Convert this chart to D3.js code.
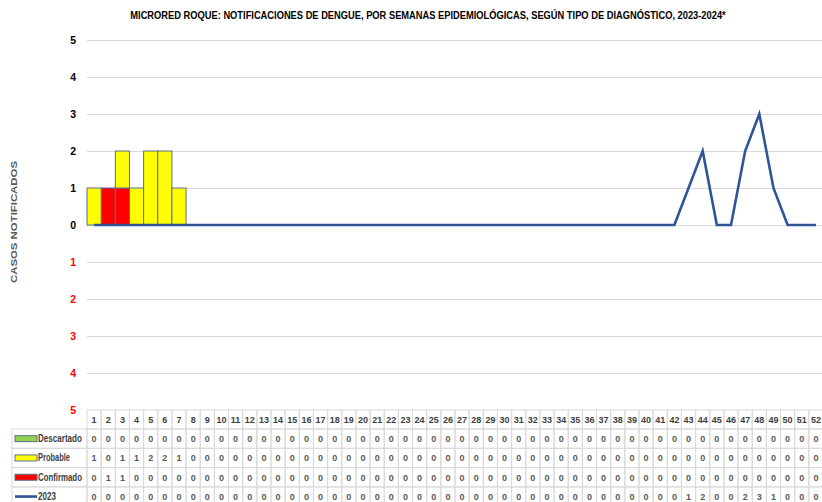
<!DOCTYPE html>
<html>
<head>
  <meta charset="utf-8">
  <title>Microred Roque - Dengue</title>
  <script src="https://d3js.org/d3.v7.min.js"></script>
  <style>
    body { margin: 0; background: #fff; }
    svg text { font-family: 'Liberation Sans Narrow', 'Arial Narrow', 'Liberation Sans', sans-serif; }
  </style>
</head>
<body>
<script>
// data
var weeks = d3.range(1, 53);
var descartado = weeks.map(function () { return 0; });
var probable = [1, 0, 1, 1, 2, 2, 1, 0, 0, 0, 0, 0, 0, 0, 0, 0, 0, 0, 0, 0, 0, 0, 0, 0, 0, 0,
  0, 0, 0, 0, 0, 0, 0, 0, 0, 0, 0, 0, 0, 0, 0, 0, 0, 0, 0, 0, 0, 0, 0, 0, 0, 0];
var confirmado = [0, 1, 1, 0, 0, 0, 0, 0, 0, 0, 0, 0, 0, 0, 0, 0, 0, 0, 0, 0, 0, 0, 0, 0, 0, 0,
  0, 0, 0, 0, 0, 0, 0, 0, 0, 0, 0, 0, 0, 0, 0, 0, 0, 0, 0, 0, 0, 0, 0, 0, 0, 0];
var serie2023 = [0, 0, 0, 0, 0, 0, 0, 0, 0, 0, 0, 0, 0, 0, 0, 0, 0, 0, 0, 0, 0, 0, 0, 0, 0, 0,
  0, 0, 0, 0, 0, 0, 0, 0, 0, 0, 0, 0, 0, 0, 0, 0, 1, 2, 0, 0, 2, 3, 1, 0, 0, 0];
var yTicks = [-5, -4, -3, -2, -1, 0, 1, 2, 3, 4, 5];
var title = "MICRORED  ROQUE:  NOTIFICACIONES  DE DENGUE,  POR SEMANAS  EPIDEMIOLÓGICAS,   SEGÚN  TIPO DE DIAGNÓSTICO, 2023-2024*";

var rows = [
  { name: "Descartado", values: descartado, color: "#92d050", type: "bar", len: 44 },
  { name: "Probable", values: probable, color: "#ffff00", type: "bar", len: 32 },
  { name: "Confirmado", values: confirmado, color: "#ff0000", type: "bar", len: 44 },
  { name: "2023", values: serie2023, color: "#2f5597", type: "line", len: 18 }
];

var W = 822, H = 502;
var svg = d3.select("body").append("svg")
  .attr("width", W).attr("height", H);

var x = d3.scaleBand().domain(weeks).range([87, 823]).padding(0);
var y = d3.scaleLinear().domain([-5, 5]).range([410, 40]);

// squeeze a text horizontally to a given width (Calibri-like narrow look)
function squeeze(sel, width, cx, cy) {
  var w = sel.node().getComputedTextLength();
  sel.attr("x", 0).attr("y", 0)
    .attr("transform", "translate(" + cx + "," + cy + ") scale(" + (width / w) + ",1)");
}

// title
var t = svg.append("text")
  .attr("text-anchor", "middle")
  .attr("font-size", 10).attr("font-weight", "bold")
  .attr("fill", "#000")
  .text(title);
squeeze(t, 596, 428, 19);

// y title
svg.append("text")
  .attr("transform", "translate(17,222) rotate(-90)")
  .attr("text-anchor", "middle")
  .attr("font-size", 9.5).attr("font-weight", "bold")
  .attr("fill", "#595959")
  .attr("textLength", 122).attr("lengthAdjust", "spacingAndGlyphs")
  .text("CASOS NOTIFICADOS");

// gridlines
svg.append("g").selectAll("line")
  .data(yTicks.filter(function (d) { return d !== -5; }))
  .enter().append("line")
  .attr("x1", 87).attr("x2", 822)
  .attr("y1", function (d) { return y(d) + 0.5; })
  .attr("y2", function (d) { return y(d) + 0.5; })
  .attr("stroke", "#d9d9d9").attr("stroke-width", 1);

// y axis labels (absolute values, negatives in red)
var yAxis = svg.append("g")
  .attr("transform", "translate(76,0)")
  .call(d3.axisLeft(y).tickValues(yTicks).tickSize(0).tickPadding(0)
    .tickFormat(function (d) { return Math.abs(d); }));
yAxis.select(".domain").remove();
yAxis.selectAll("text")
  .attr("font-size", 10.5).attr("font-weight", "bold")
  .attr("font-family", "'Liberation Sans Narrow', 'Arial Narrow', 'Liberation Sans', sans-serif")
  .attr("fill", function (d) { return d < 0 ? "#ff0000" : "#000"; });

// stacked bars: confirmado below, probable above
var stackData = weeks.map(function (w, i) {
  return { week: w, Confirmado: confirmado[i], Probable: probable[i], Descartado: descartado[i] };
});
var stack = d3.stack().keys(["Confirmado", "Probable", "Descartado"]);
var colors = { Confirmado: "#ff0000", Probable: "#ffff00", Descartado: "#92d050" };
var layers = stack(stackData);
svg.append("g").selectAll("g")
  .data(layers).enter().append("g")
  .attr("fill", function (d) { return colors[d.key]; })
  .selectAll("rect")
  .data(function (d) { return d.filter(function (p) { return p[1] > p[0]; }); })
  .enter().append("rect")
  .attr("x", function (d) { return x(d.data.week); })
  .attr("width", x.bandwidth())
  .attr("y", function (d) { return y(d[1]); })
  .attr("height", function (d) { return y(d[0]) - y(d[1]); })
  .attr("stroke", "#5a6f8f").attr("stroke-width", 1);

// 2023 line
var line = d3.line()
  .x(function (d, i) { return x(weeks[i]) + x.bandwidth() / 2; })
  .y(function (d) { return y(d); });
svg.append("path")
  .datum(serie2023)
  .attr("d", line)
  .attr("fill", "none")
  .attr("stroke", "#2f5597").attr("stroke-width", 2.6)
  .attr("stroke-linejoin", "miter");

// data table
var tableTop = 410, headH = 19, rowH = 19.3;
var tbl = svg.append("g");
var border = "#d9d9d9";

// header row
tbl.selectAll("rect.head").data(weeks).enter().append("rect")
  .attr("x", function (d) { return x(d); })
  .attr("y", tableTop)
  .attr("width", x.bandwidth()).attr("height", headH)
  .attr("fill", "none").attr("stroke", border);
tbl.selectAll("text.head").data(weeks).enter().append("text")
  .attr("x", function (d) { return x(d) + x.bandwidth() / 2; })
  .attr("y", tableTop + headH / 2 + 3.5)
  .attr("text-anchor", "middle")
  .attr("font-size", 9).attr("font-weight", "bold")
  .attr("fill", "#404040")
  .text(function (d) { return d; });

rows.forEach(function (r, ri) {
  var ry = tableTop + headH + ri * rowH;
  var g = tbl.append("g");
  g.append("rect")
    .attr("x", 12).attr("y", ry).attr("width", 75).attr("height", rowH)
    .attr("fill", "none").attr("stroke", border);
  if (r.type === "bar") {
    g.append("rect")
      .attr("x", 15).attr("y", ry + rowH / 2 - 3).attr("width", 22).attr("height", 6)
      .attr("fill", r.color).attr("stroke", "#5a6f8f").attr("stroke-width", 1);
  } else {
    g.append("line")
      .attr("x1", 15).attr("x2", 37)
      .attr("y1", ry + rowH / 2).attr("y2", ry + rowH / 2)
      .attr("stroke", r.color).attr("stroke-width", 2.6);
  }
  var lbl = g.append("text")
    .attr("font-size", 10).attr("font-weight", "bold")
    .attr("fill", "#404040")
    .text(r.name);
  squeeze(lbl, r.len, 38, ry + rowH / 2 + 3.5);
  g.selectAll("rect.cell").data(r.values).enter().append("rect")
    .attr("x", function (d, i) { return x(weeks[i]); })
    .attr("y", ry)
    .attr("width", x.bandwidth()).attr("height", rowH)
    .attr("fill", "none").attr("stroke", border);
  g.selectAll("text.cell").data(r.values).enter().append("text")
    .attr("x", function (d, i) { return x(weeks[i]) + x.bandwidth() / 2; })
    .attr("y", ry + rowH / 2 + 3.5)
    .attr("text-anchor", "middle")
    .attr("font-size", 9).attr("font-weight", "bold")
    .attr("fill", "#595959")
    .text(function (d) { return d; });
});
</script>
</body>
</html>
